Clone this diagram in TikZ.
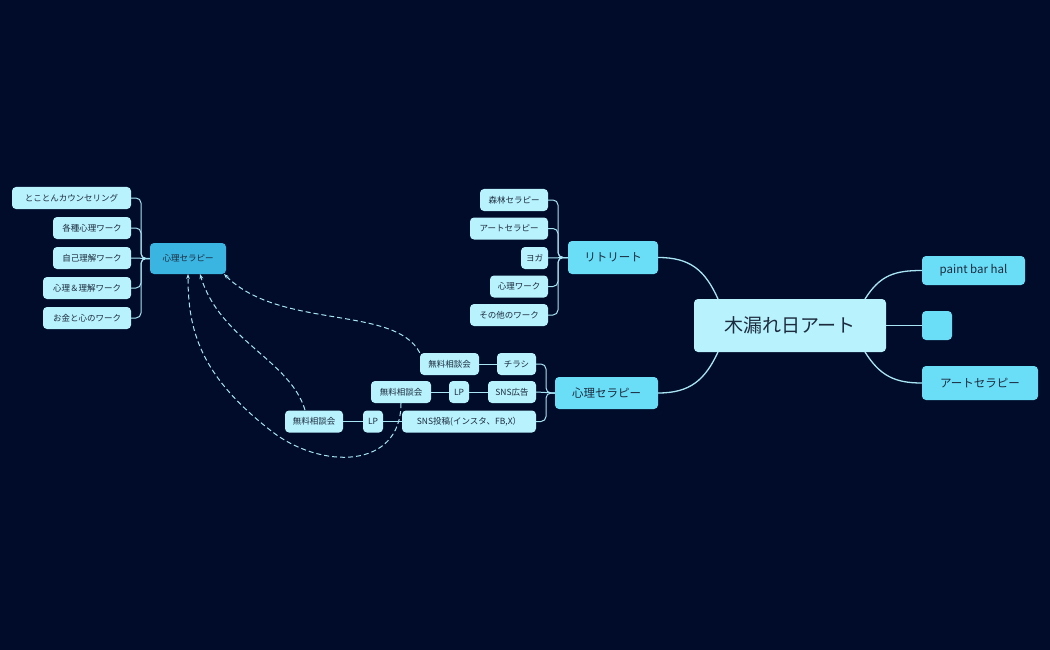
\documentclass[tikz,border=0pt]{standalone}
\usepackage{fontspec}
\setmainfont{Noto Sans CJK JP}
\usetikzlibrary{arrows.meta}
\definecolor{bg}{HTML}{000C2A}
\definecolor{lb}{HTML}{B8F2FC}
\definecolor{mb}{HTML}{6ADDF7}
\definecolor{db}{HTML}{3AB4E0}
\definecolor{tx}{HTML}{1C2B3E}
\definecolor{ln}{HTML}{A8E4F4}
\begin{document}
\begin{tikzpicture}[x=1pt,y=-1pt,
  box/.style={draw=none,rounded corners=4pt,text=tx,inner sep=0pt,anchor=center},
  leaf/.style={box,fill=lb,font=\fontsize{8.5}{9}\selectfont,minimum height=22pt},
  mid/.style={box,fill=mb,font=\fontsize{11.5}{12}\selectfont,minimum height=32pt},
  conn/.style={draw=ln,line width=1.3pt},
  rel/.style={draw=ln,line width=1pt,dash pattern=on 5pt off 3pt,-{Stealth[length=5pt]}}]
\fill[bg] (0,0) rectangle (1050,650);
\node[box,fill=lb,font=\fontsize{19}{20}\selectfont,minimum width=192pt,minimum height=53pt] (root) at (790,325.5) {木漏れ日アート};
\node[mid,minimum width=103pt,minimum height=29pt] (pb) at (973.5,270.5) {paint bar hal};
\node[mid,minimum width=30pt,minimum height=29pt] (bl) at (937,325.5) {};
\node[mid,minimum width=116pt,minimum height=34pt] (at) at (980,383) {アートセラピー};
\node[mid,minimum width=90pt,minimum height=33pt] (rt) at (613,257.5) {リトリート};
\node[mid,minimum width=103pt,minimum height=32pt] (ps) at (606.5,393) {心理セラピー};
% retreat children
\node[leaf,minimum width=68pt] (r1) at (514,200) {森林セラピー};
\node[leaf,minimum width=78pt] (r2) at (509,228.5) {アートセラピー};
\node[leaf,minimum width=27pt] (r3) at (534.5,258) {ヨガ};
\node[leaf,minimum width=58pt] (r4) at (519,286.5) {心理ワーク};
\node[leaf,minimum width=78pt] (r5) at (509,315) {その他のワーク};
% therapy children
\node[leaf,minimum width=39pt] (c1) at (516.5,364) {チラシ};
\node[leaf,minimum width=48pt] (c2) at (512,392) {SNS広告};
\node[leaf,minimum width=134pt] (c3) at (469,421.5) {SNS投稿(インスタ、FB,X）};
\node[leaf,minimum width=59pt] (f1) at (449.5,364) {無料相談会};
\node[leaf,minimum width=20pt] (l2) at (459,392) {LP};
\node[leaf,minimum width=60pt] (f2) at (401,392) {無料相談会};
\node[leaf,minimum width=20pt] (l3) at (373,421.5) {LP};
\node[leaf,minimum width=58pt] (f3) at (314,421.5) {無料相談会};
% left
\node[box,fill=db,font=\fontsize{8.5}{9}\selectfont,minimum width=76pt,minimum height=31pt] (lp) at (188,258.5) {心理セラピー};
\node[leaf,minimum width=119pt] (k1) at (71.5,198) {とことんカウンセリング};
\node[leaf,minimum width=78pt] (k2) at (92,228) {各種心理ワーク};
\node[leaf,minimum width=78pt] (k3) at (92,258) {自己理解ワーク};
\node[leaf,minimum width=88pt] (k4) at (87,288) {心理＆理解ワーク};
\node[leaf,minimum width=88pt] (k5) at (87,318) {お金と心のワーク};
% root connectors
\draw[conn] (865,299) .. controls (880,275) and (895,270.5) .. (pb.west);
\draw[conn] (root.east) -- (bl.west);
\draw[conn] (865,352) .. controls (880,376) and (895,383) .. (at.west);
\draw[conn] (718,299) .. controls (705,270) and (690,257.5) .. (rt.east);
\draw[conn] (718,352) .. controls (705,380) and (690,393) .. (ps.east);
% tree connectors
\foreach \n in {r1,r2,r4,r5} \draw[conn,line width=1pt,rounded corners=5pt] (rt.west) -- (558,257.5) |- (\n.east);
\draw[conn,line width=1pt] (rt.west) -- (r3.east);
\foreach \n in {c1,c3} \draw[conn,line width=1pt,rounded corners=5pt] (ps.west) -- (546,393) |- (\n.east);
\draw[conn,line width=1pt] (ps.west) -- (c2.east);
\draw[conn,line width=1pt] (c1.west) -- (f1.east);
\draw[conn,line width=1pt] (c2.west) -- (l2.east);
\draw[conn,line width=1pt] (l2.west) -- (f2.east);
\draw[conn,line width=1pt] (c3.west) -- (l3.east);
\draw[conn,line width=1pt] (l3.west) -- (f3.east);
\foreach \n in {k1,k2,k4,k5} \draw[conn,line width=1pt,rounded corners=5pt] (lp.west) -- (141,258.5) |- (\n.east);
\draw[conn,line width=1pt] (lp.west) -- (k3.east);
% relations
\draw[rel] (f1.north west) .. controls (395,305) and (280,330) .. (224,274);
\draw[rel] (f2.south) .. controls (401,470) and (320,470) .. (270,430) .. controls (200,375) and (188,330) .. (188,274);
\draw[rel] (305,410) .. controls (290,360) and (220,340) .. (200,274);
\end{tikzpicture}
\end{document}
